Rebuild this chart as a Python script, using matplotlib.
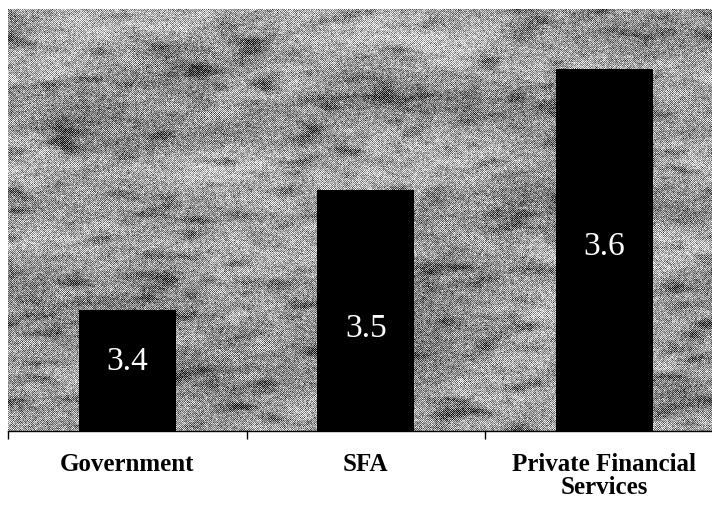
import numpy as np
import matplotlib
matplotlib.use("Agg")
import matplotlib.pyplot as plt
from matplotlib.transforms import blended_transform_factory

# Chart data
categories = ["Government", "SFA", "Private Financial\nServices"]
scores = [3.4, 3.5, 3.6]
score_labels = ["3.4", "3.5", "3.6"]
label_heights = [3.357, 3.385, 3.453]

W_PX, H_PX = 712, 505
fig = plt.figure(figsize=(W_PX / 100, H_PX / 100), dpi=100)
fig.patch.set_facecolor("white")

ax_left, ax_top, ax_bottom = 8, 9, 430.7
ax = fig.add_axes([ax_left / W_PX, (H_PX - ax_bottom) / H_PX,
                   (W_PX - ax_left) / W_PX, (ax_bottom - ax_top) / H_PX])

x = np.arange(len(categories))
ax.set_xlim(-0.5, -0.5 + (W_PX - ax_left) / 238.5)
ax.set_ylim(3.3, 3.65)

# Granite-style grey fill for the plot area
rng = np.random.default_rng(5)
th, tw = int(round(ax_bottom - ax_top)), W_PX - ax_left


def smooth_noise(sy, sx):
    n = rng.standard_normal((th, tw))
    fy = np.fft.fftfreq(th)[:, None]
    fx = np.fft.fftfreq(tw)[None, :]
    g = np.exp(-2 * (np.pi ** 2) * ((fy * sy) ** 2 + (fx * sx) ** 2))
    out = np.real(np.fft.ifft2(np.fft.fft2(n) * g))
    return (out - out.mean()) / out.std()


big = smooth_noise(16, 50)
mid = smooth_noise(3, 9)
fine = smooth_noise(1.0, 1.6)
field = 0.45 * big + 0.35 * mid + 0.2 * fine
yy, xx = np.mgrid[0:th, 0:tw]
checker = ((yy + xx) % 2).astype(float) - 0.5
tex = 0.60 + 0.12 * field + 0.36 * checker * (0.75 + 0.25 * np.abs(mid)) \
    + 0.12 * rng.standard_normal((th, tw))
tex -= 0.08 * np.clip(-mid - 0.8, 0, None)
tex = np.clip(tex, 0, 1)
ax.imshow(tex, cmap="gray", vmin=0, vmax=1, interpolation="nearest",
          extent=[ax.get_xlim()[0], ax.get_xlim()[1], 3.3, 3.65],
          aspect="auto", zorder=0)

ax.bar(x, np.array(scores) - 3.3, bottom=3.3, width=0.405,
       color="black", zorder=2)

for xi, lab, yl in zip(x, score_labels, label_heights):
    ax.text(xi, yl, lab, ha="center", va="center", color="white",
            fontsize=24, family="Liberation Serif", zorder=3)

# Category axis
for s in ["left", "right", "top"]:
    ax.spines[s].set_visible(False)
ax.spines["bottom"].set_linewidth(1.0)
ax.spines["bottom"].set_color("black")
ax.set_yticks([])
ax.set_xticks([-0.5, 0.5, 1.5])
ax.set_xticklabels([])
ax.tick_params(axis="x", length=6, width=1, direction="out", color="black")

trans = blended_transform_factory(ax.transData, fig.transFigure)
for xi, cat in zip(x, categories):
    fig.text(xi, 1 - 453 / H_PX, cat, transform=trans, ha="center", va="top",
             fontsize=18, fontweight="bold", family="Liberation Serif",
             linespacing=1.0)

fig.savefig("out.png", dpi=100)
